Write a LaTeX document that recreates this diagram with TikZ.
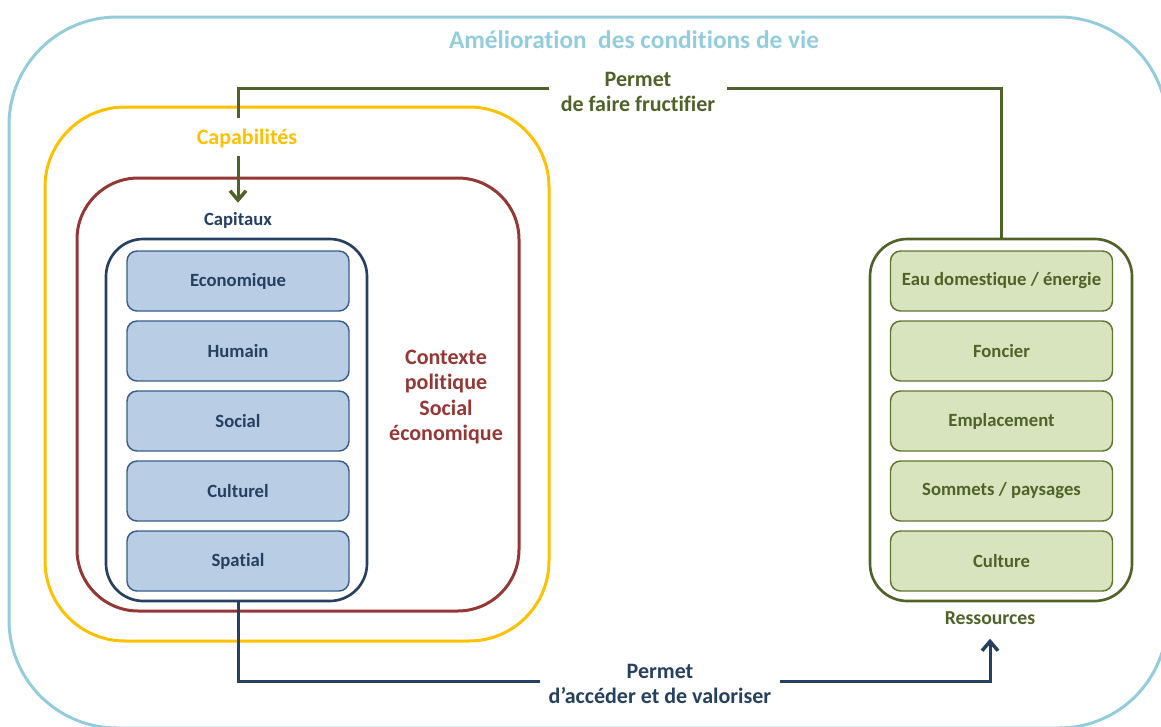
\documentclass[tikz,border=0pt]{standalone}
\usepackage{fontspec}
\setmainfont{Carlito}[Ligatures=NoCommon]
\usetikzlibrary{arrows.meta}
\definecolor{lblue}{HTML}{93CDDD}
\definecolor{cyel}{HTML}{FFC000}
\definecolor{dred}{HTML}{953735}
\definecolor{navy}{HTML}{254061}
\definecolor{bborder}{HTML}{385D8A}
\definecolor{bfill}{HTML}{B9CDE5}
\definecolor{olive}{HTML}{4F6228}
\definecolor{gborder}{HTML}{5F7530}
\definecolor{gfill}{HTML}{D7E4BD}
\begin{document}
\begin{tikzpicture}[x=0.75pt,y=-0.75pt,
  cont/.style={draw, rectangle, inner sep=0pt, line width=2.25pt},
  bbox/.style={draw=bborder, fill=bfill, rectangle, rounded corners=7.5pt, line width=1.1pt,
     minimum width=166.5pt, minimum height=45pt, inner sep=0pt, text=navy,
     font=\fontsize{14}{16}\selectfont\bfseries},
  gbox/.style={bbox, draw=gborder, fill=gfill, text=olive},
  lab/.style={font=\fontsize{16.5}{18.75}\selectfont\bfseries, align=center, inner sep=0pt},
  conn/.style={line width=2.25pt},
  tip/.style={-{Straight Barb[length=7pt,width=12pt,line width=2.6pt]}}
]
\clip (0,0) rectangle (1161,726);
% containers
\node[cont, draw=lblue, minimum width=868.5pt, minimum height=533.25pt, rounded corners=81pt] (outer) at (588,372.5) {};
\node[cont, draw=cyel, minimum width=378pt, minimum height=400.5pt, rounded corners=60pt] (yel) at (297,374) {};
\node[cont, draw=dred, minimum width=331.5pt, minimum height=324.75pt, rounded corners=46pt] (red) at (298,394.5) {};
\node[cont, draw=navy, line width=2pt, minimum width=195.75pt, minimum height=271.5pt, rounded corners=28pt] (nav) at (236.5,420) {};
\node[cont, draw=olive, line width=2pt, minimum width=196.5pt, minimum height=271.5pt, rounded corners=28pt] (gc) at (1001,420) {};
% title and labels
\node[font=\fontsize{19}{22}\selectfont\bfseries, text=lblue, inner sep=0pt] (title) at (634,40) {Amélioration\ \ des conditions de vie};
\node[lab, text=cyel] (capab) at (247,139) {Capabilités};
\node[font=\fontsize{14}{16}\selectfont\bfseries, text=navy, inner sep=0pt] (capit) at (238,220) {Capitaux};
\node[lab, text=dred, font=\fontsize{16.5}{19}\selectfont\bfseries] (ctx) at (446,397) {Contexte\\politique\\Social\\économique};
\node[font=\fontsize{14.8}{17}\selectfont\bfseries, text=olive, inner sep=0pt] (res) at (990,618) {Ressources};
% capital boxes
\node[bbox] (eco) at (238,281) {Economique};
\node[bbox] (hum) at (238,351) {Humain};
\node[bbox] (soc) at (238,421) {Social};
\node[bbox] (cul) at (238,491) {Culturel};
\node[bbox] (spa) at (238,561) {Spatial};
% resource boxes
\node[gbox] (eau) at (1001.5,281) {Eau domestique / énergie};
\node[gbox] (fon) at (1001.5,351) {Foncier};
\node[gbox] (emp) at (1001.5,421) {Emplacement};
\node[gbox] (som) at (1001.5,491) {Sommets / paysages};
\node[gbox] (cultu) at (1001.5,561) {Culture};
% connectors
\coordinate (tl) at (238,88);
\coordinate (bl) at (238,681);
\draw[conn, draw=olive] (gc.north) |- (tl) -- ([yshift=8.6pt]capab.north -| tl);
\draw[conn, draw=olive, tip] ([yshift=-5.6pt]capab.south -| tl) -- ([yshift=6.75pt]capit.north -| tl);
\draw[conn, draw=navy, tip] (nav.south -| spa) -- (bl) -| ([yshift=-10.5pt]res.south);
\node[lab, text=olive, fill=white, minimum width=134pt, minimum height=30pt] (l1) at (638,91.5) {Permet\\de faire fructifier};
\node[lab, text=navy, fill=white, minimum width=180pt, minimum height=30pt] (l2) at (660,684) {Permet\\d’accéder et de valoriser};
\end{tikzpicture}
\end{document}
